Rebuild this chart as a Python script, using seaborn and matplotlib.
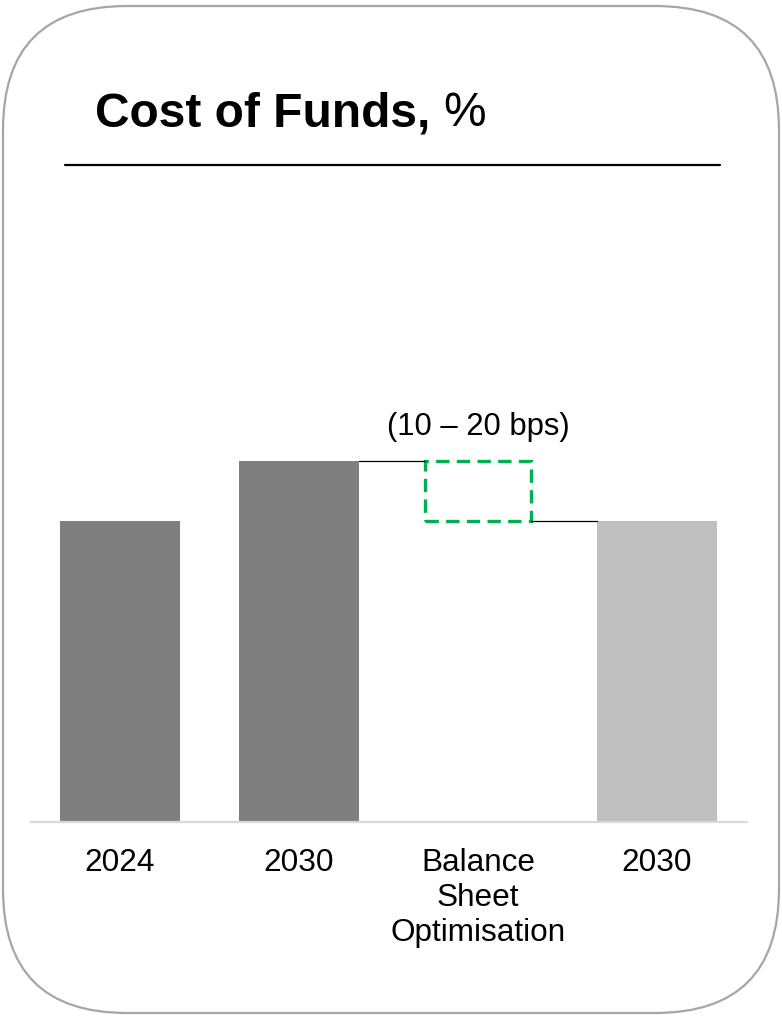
import matplotlib
matplotlib.use("Agg")
import matplotlib.pyplot as plt
from matplotlib.patches import FancyBboxPatch
from matplotlib.lines import Line2D
from matplotlib.text import Annotation
import seaborn as sns
import pandas as pd

# ---------------- data ----------------
keys = ["2024", "2030", "BSO", "2030 target"]
labels = ["2024", "2030", "Balance\nSheet\nOptimisation", "2030"]
start_value = 2.5          # 2024
base_2030 = 3.0            # 2030 before optimisation
optimisation_delta = -0.5  # balance-sheet optimisation (10–20 bps)
final_2030 = base_2030 + optimisation_delta
bar_colors = {"2024": "#7f7f7f", "2030": "#7f7f7f", "2030 target": "#bfbfbf"}
annotation_text = "(10 – 20 bps)"
title_bold = "Cost of Funds,"
title_normal = "%"

sns.set_theme(style="white")
plt.rcParams["font.family"] = ["Liberation Sans", "DejaVu Sans"]

W, H = 782, 1016
fig = plt.figure(figsize=(W / 100, H / 100), dpi=100)

# axes placement (pixels)
ax_left, ax_right = 30.5, 746.5
ax_bottom_px, ax_top_px = 822, 300
ax = fig.add_axes([ax_left / W, 1 - ax_bottom_px / H,
                   (ax_right - ax_left) / W, (ax_bottom_px - ax_top_px) / H])

df = pd.DataFrame({
    "key": ["2024", "2030", "2030 target"],
    "value": [start_value, base_2030, final_2030],
})
sns.barplot(data=df, x="key", y="value", hue="key", order=keys,
            palette=bar_colors, width=0.67, saturation=1, legend=False,
            ax=ax, linewidth=0)

# dashed optimisation box
box_w = 0.587
ax.bar(2, -optimisation_delta, bottom=final_2030, width=box_w, fill=False,
       edgecolor="#00b050", linewidth=2.4, linestyle=(0, (4, 2.2)))

# connectors
bw = 0.67
ax.plot([1 + bw / 2, 2 - box_w / 2], [base_2030, base_2030], color="black", lw=0.9)
ax.plot([2 + box_w / 2, 3 - bw / 2], [final_2030, final_2030], color="black", lw=0.9)

ax.annotate(annotation_text, xy=(2, base_2030), xytext=(0, 18.7),
            textcoords="offset points", ha="center", va="baseline",
            fontsize=22.3, color="black")

px_per_unit = 361 / base_2030
ax.set_ylim(0, (ax_bottom_px - ax_top_px) / px_per_unit)
ax.set_xlim(-0.5, 3.5)
ax.set_xticks(range(len(keys)))
ax.set_xticklabels(labels, fontsize=22.7, color="black", linespacing=1.2)
ax.tick_params(axis="x", length=0, pad=19)
ax.set_yticks([])
ax.set_xlabel("")
ax.set_ylabel("")
for s in ["top", "left", "right"]:
    ax.spines[s].set_visible(False)
ax.spines["bottom"].set_color("#d9d9d9")
ax.spines["bottom"].set_linewidth(1.6)
ax.patch.set_alpha(0)

# border
border = FancyBboxPatch((3 / 100, 3 / 100), (W - 6) / 100, (H - 9) / 100,
                        boxstyle="round,pad=0,rounding_size=1.24",
                        transform=fig.dpi_scale_trans, fill=False,
                        edgecolor="#a6a6a6", linewidth=1.6)
fig.patches.append(border)

# title
t = fig.text(95 / W, 1 - 126 / H, title_bold, fontsize=34.5, fontweight="bold",
             ha="left", va="baseline", color="black")
fig.add_artist(Annotation(
    title_normal, xy=(1, 0), xycoords=t, xytext=(9, 0), textcoords="offset points",
    fontsize=34.5, ha="left", va="bottom", color="black"))

fig.add_artist(Line2D([65 / W, 720 / W], [1 - 165 / H, 1 - 165 / H],
                      color="black", lw=1.6))

fig.savefig("out.png", dpi=100)
